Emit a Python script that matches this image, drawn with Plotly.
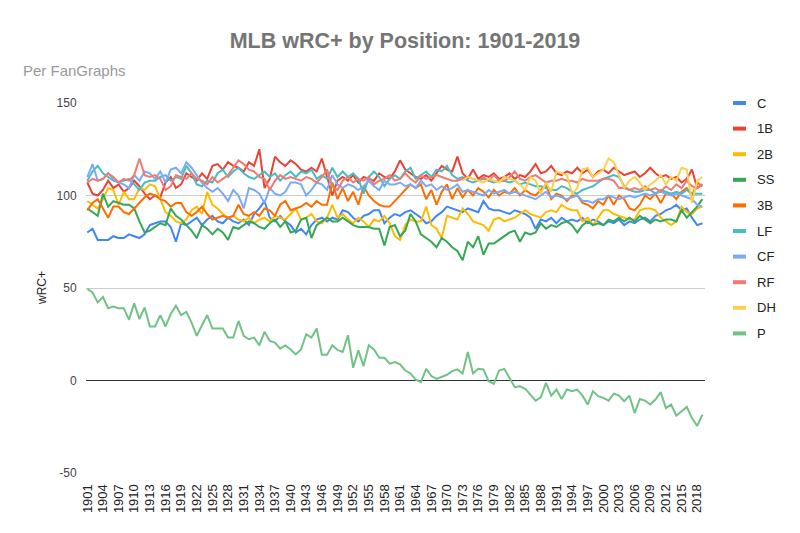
import plotly.graph_objects as go

years = list(range(1901, 2020))

C = [80, 82, 76, 76, 76, 78, 77, 77, 79, 78,
     77, 79, 84, 85, 86, 86, 83, 75, 85, 84,
     86, 88, 84, 87, 89, 86, 85, 88, 86, 85,
     87, 84, 90, 93, 97, 88, 86, 89, 86, 84,
     80, 82, 79, 84, 87, 88, 86, 88, 87, 92,
     91, 88, 86, 89, 90, 92, 92, 85, 88, 90,
     89, 91, 92, 90, 88, 85, 86, 89, 91, 94,
     93, 92, 91, 93, 92, 91, 97, 93, 92, 92,
     91, 90, 92, 91, 90, 88, 82, 87, 86, 88,
     85, 88, 86, 87, 86, 88, 85, 87, 86, 84,
     86, 85, 87, 84, 86, 85, 87, 88, 86, 89,
     90, 92, 93, 95, 92, 93, 88, 84, 85]

B1 = [107, 101, 100, 103, 108, 104, 106, 102, 104, 108,
      105, 101, 98, 100, 99, 107, 110, 104, 106, 112,
      110, 108, 112, 109, 116, 117, 114, 118, 116, 115,
      113, 118, 116, 125, 104, 109, 121, 118, 116, 119,
      117, 114, 113, 115, 113, 120, 110, 100, 108, 110,
      108, 111, 107, 110, 109, 108, 112, 110, 109, 113,
      119, 114, 112, 110, 109, 111, 108, 112, 116, 114,
      113, 121, 112, 109, 114, 109, 111, 110, 112, 109,
      110, 112, 109, 111, 110, 113, 117, 112, 113, 116,
      112, 111, 113, 112, 115, 112, 114, 110, 113, 114,
      112, 115, 113, 111, 112, 113, 110, 112, 115, 112,
      110, 111, 109, 110, 107, 109, 114, 104, 106]

B2 = [97, 95, 93, 98, 104, 103, 95, 102, 98, 98,
      104, 103, 106, 105, 98, 91, 89, 86, 85, 87,
      92, 94, 90, 102, 95, 93, 90, 88, 89, 87,
      86, 88, 85, 87, 88, 86, 89, 88, 87, 90,
      93, 87, 88, 90, 86, 85, 88, 95, 88, 90,
      87, 85, 88, 86, 83, 87, 86, 89, 85, 78,
      76, 84, 87, 86, 86, 94, 84, 82, 77, 89,
      88, 87, 93, 90, 86, 85, 84, 81, 87, 88,
      86, 87, 88, 90, 92, 90, 89, 88, 91, 92,
      91, 95, 93, 92, 92, 86, 88, 84, 88, 92,
      92, 90, 89, 88, 87, 87, 92, 93, 93, 92,
      88, 86, 84, 86, 94, 91, 90, 93, 94]

SS = [93, 91, 89, 101, 94, 97, 96, 95, 95, 93,
      86, 80, 81, 83, 85, 84, 93, 89, 87, 84,
      81, 77, 84, 82, 79, 82, 80, 76, 83, 82,
      84, 86, 85, 83, 82, 85, 87, 83, 86, 80,
      81, 87, 88, 77, 84, 86, 88, 86, 86, 88,
      86, 84, 83, 83, 83, 82, 82, 73, 83, 84,
      78, 81, 90, 86, 79, 77, 75, 72, 77, 75,
      72, 70, 65, 75, 72, 78, 68, 74, 74, 76,
      78, 80, 81, 75, 80, 79, 80, 85, 82, 84,
      83, 85, 86, 84, 80, 84, 86, 84, 85, 84,
      87, 86, 88, 86, 88, 86, 89, 87, 85, 87,
      86, 87, 87, 86, 92, 88, 91, 94, 98]

B3 = [92, 96, 98, 93, 88, 94, 94, 91, 90, 93,
      96, 99, 101, 100, 98, 97, 94, 96, 96, 91,
      89, 91, 94, 90, 87, 88, 89, 88, 89, 95,
      90, 89, 91, 89, 93, 92, 89, 95, 97, 92,
      93, 94, 96, 94, 97, 95, 95, 107, 98, 104,
      97, 102, 95, 105, 100, 97, 95, 94, 94, 97,
      100, 103, 106, 104, 106, 98, 103, 95, 102, 106,
      98, 104, 99, 103, 100, 104, 102, 99, 103, 100,
      102, 101, 104, 100, 103, 101, 100, 103, 106, 98,
      101, 100, 97, 100, 100, 96, 95, 93, 97, 95,
      100, 95, 100, 98, 93, 92, 95, 100, 98, 101,
      96, 101, 101, 98, 102, 104, 100, 107, 105]

LF = [108, 113, 116, 112, 110, 108, 107, 108, 109, 106,
      103, 107, 108, 108, 110, 111, 108, 110, 109, 116,
      112, 106, 105, 108, 107, 112, 114, 110, 113, 115,
      112, 110, 109, 111, 113, 110, 112, 108, 111, 113,
      110, 113, 112, 114, 109, 111, 109, 115, 110, 113,
      110, 112, 109, 101, 110, 113, 110, 105, 109, 111,
      109, 113, 115, 109, 111, 113, 110, 114, 113, 116,
      111, 109, 110, 108, 107, 108, 109, 108, 107, 108,
      108, 107, 108, 106, 107, 106, 105, 105, 104, 103,
      103, 105, 104, 102, 101, 103, 104, 105, 107, 109,
      110, 111, 110, 105, 103, 102, 102, 103, 103, 101,
      103, 102, 101, 102, 101, 103, 101, 101, 101]

CF = [110, 117, 108, 109, 112, 109, 107, 106, 104, 111,
      108, 113, 112, 109, 113, 107, 114, 115, 112, 118,
      115, 111, 107, 104, 102, 104, 101, 97, 103, 100,
      93, 104, 103, 101, 96, 104, 101, 100, 102, 107,
      107, 106, 100, 103, 107, 106, 103, 111, 106, 104,
      106, 105, 103, 105, 108, 105, 103, 108, 106, 106,
      107, 105, 106, 104, 108, 105, 106, 103, 105, 103,
      104, 106, 102, 103, 102, 101, 100, 103, 101, 102,
      103, 101, 102, 101, 100, 99, 98, 100, 102, 99,
      100, 99, 98, 99, 100, 97, 97, 96, 98, 98,
      100, 99, 98, 99, 100, 99, 100, 101, 100, 101,
      102, 101, 100, 101, 100, 99, 98, 95, 94]

RF = [107, 109, 108, 109, 112, 110, 107, 109, 108, 111,
      120, 111, 110, 111, 109, 103, 105, 111, 110, 109,
      112, 109, 108, 106, 110, 107, 109, 111, 115, 119,
      117, 114, 113, 110, 109, 103, 108, 111, 109, 110,
      109, 108, 110, 109, 107, 110, 114, 105, 103, 108,
      110, 107, 109, 108, 110, 106, 108, 109, 111, 108,
      109, 112, 109, 107, 111, 109, 110, 111, 110, 109,
      108, 108, 109, 110, 109, 108, 110, 108, 111, 108,
      108, 110, 113, 109, 108, 110, 111, 109, 107, 108,
      108, 109, 108, 108, 107, 109, 108, 108, 108, 109,
      109, 108, 104, 104, 103, 104, 103, 105, 103, 104,
      102, 105, 103, 106, 104, 108, 105, 104, 106]

DH = [None] * 72 + [
      108, 110, 109, 108, 107, 109, 108, 107,
      110, 109, 108, 106, 103, 110, 108, 101, 107, 102,
      113, 112, 111, 101, 104, 114, 115, 110, 112, 114,
      120, 118, 111, 104, 108, 110, 107, 103, 106, 108,
      111, 106, 110, 108, 115, 114, 96, 108, 110]

P = [49.5, 47.6, 42.2, 45.1, 39.1, 40.0, 39.1, 39.1, 32.8, 41.7,
     33.2, 39.5, 29.2, 29.2, 35.3, 29.2, 35.9, 40.4, 35.3, 37.1,
     31.3, 24.1, 29.9, 35.3, 28.1, 28.1, 28.1, 23.2, 23.2, 32.2,
     24.1, 22.3, 23.2, 19.0, 26.3, 21.4, 20.5, 17.2, 19.0, 16.8,
     14.1, 16.8, 25.0, 23.2, 28.1, 13.9, 13.9, 19.0, 16.5, 15.4,
     24.5, 6.9, 16.3, 7.8, 19.0, 16.8, 12.3, 12.3, 9.1, 10.0,
     8.7, 5.4, 3.8, 0.5, -0.9, 6.3, 2.4, 0.9, 2.0, 3.1,
     5.1, 6.0, 3.8, 15.4, 3.8, 6.3, 6.0, -0.4, -1.8, 5.4,
     6.3, 1.4, -3.6, -3.1, -4.5, -7.6, -10.9, -9.1, -1.3, -8.2,
     -4.9, -10.0, -4.9, -5.8, -4.9, -8.2, -13.0, -5.8, -8.5, -9.4,
     -10.9, -7.1, -8.2, -11.2, -8.2, -17.6, -10.0, -10.9, -13.0, -10.3,
     -6.3, -14.9, -13.0, -19.0, -16.7, -14.3, -20.3, -24.5, -18.5]

names = ["C", "1B", "2B", "SS", "3B", "LF", "CF", "RF", "DH", "P"]
series = [C, B1, B2, SS, B3, LF, CF, RF, DH, P]
colors = ["#4285F4", "#EA4335", "#FBBC04", "#34A853", "#FF6D01",
          "#46BDC6", "#7BAAF7", "#F07B72", "#FCD04F", "#71C287"]

x_tick_years = years[::3]
y_ticks = [-50, 0, 50, 100, 150]

FONT = "Arial, 'Liberation Sans', sans-serif"
OFF = 8  # page body margin offset
W, H = 800 - OFF, 533 - OFF
ML, MT = 86 - OFF, 103 - OFF
MR = W - (705 - OFF)
MB = H - (473 - OFF)
PW, PH = W - ML - MR, H - MT - MB

fig = go.Figure()
for name, vals, col in zip(names, series, colors):
    fig.add_trace(go.Scatter(x=years, y=vals, name=name, mode="lines",
                             line=dict(color=col, width=2), showlegend=False,
                             connectgaps=False))

# helpers: reference-screen pixel -> paper coordinates
def px_x(px):
    return (px - OFF - ML) / PW

def px_y(py):
    return (H - MB - (py - OFF)) / PH

shapes = []
annotations = []
for i, (name, col) in enumerate(zip(names, colors)):
    yy = 103 + i * 25.6
    shapes.append(dict(type="line", xref="paper", yref="paper",
                       x0=px_x(733), x1=px_x(746), y0=px_y(yy), y1=px_y(yy),
                       line=dict(color=col, width=4)))
    annotations.append(dict(text=name, xref="paper", yref="paper",
                            x=px_x(755), y=px_y(yy), xanchor="left", yanchor="middle",
                            showarrow=False, font=dict(family=FONT, size=13, color="#222222")))

annotations.append(dict(text="wRC+", xref="paper", yref="paper",
                        x=px_x(42), y=px_y(288), xanchor="center", yanchor="middle",
                        textangle=-90, showarrow=False,
                        font=dict(family=FONT, size=12, color="#222222")))
annotations.append(dict(text="Per FanGraphs", xref="paper", yref="paper",
                        x=px_x(21), y=px_y(70), xanchor="left", yanchor="middle",
                        showarrow=False, font=dict(family=FONT, size=15, color="#999999")))

fig.update_layout(
    width=W, height=H,
    margin=dict(l=ML, r=MR, t=MT, b=MB),
    paper_bgcolor="white", plot_bgcolor="white",
    title=dict(text="<b>MLB wRC+ by Position: 1901-2019</b>",
               x=(405 - OFF) / W, xanchor="center",
               y=1 - (40 - OFF) / H, yanchor="middle",
               font=dict(family=FONT, size=21.5, color="#757575")),
    shapes=shapes, annotations=annotations,
    xaxis=dict(range=[1900.75, 2019.5], tickvals=x_tick_years,
               ticktext=[str(y) for y in x_tick_years], tickangle=-90,
               showgrid=False, zeroline=False, showline=False,
               ticks="outside", ticklen=5, tickcolor="rgba(0,0,0,0)",
               tickfont=dict(family=FONT, size=13, color="#222222")),
    yaxis=dict(range=[-50, 150], tickvals=y_ticks, ticktext=[str(v) for v in y_ticks],
               showgrid=True, gridcolor="#cccccc", gridwidth=1,
               zeroline=True, zerolinecolor="#333333", zerolinewidth=1,
               showline=False, ticks="outside", ticklen=6, tickcolor="rgba(0,0,0,0)",
               tickfont=dict(family=FONT, size=12, color="#444444")),
)

fig.write_html("out.html")
